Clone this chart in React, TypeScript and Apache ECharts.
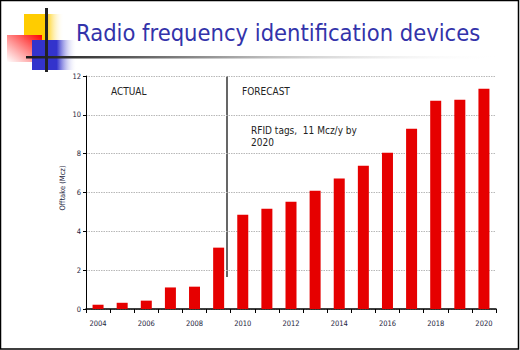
import React, { useEffect, useRef } from 'react';
import * as echarts from 'echarts';

const years = ['2004', '2005', '2006', '2007', '2008', '2009', '2010', '2011', '2012', '2013', '2014', '2015', '2016', '2017', '2018', '2019', '2020'];
const offtake = [0.22, 0.32, 0.43, 1.11, 1.15, 3.16, 4.86, 5.16, 5.52, 6.09, 6.72, 7.38, 8.05, 9.28, 10.72, 10.78, 11.34];
const yMin = 0;
const yMax = 12;
const yStep = 2;
const titleText = 'Radio frequency identification devices';
const yAxisName = 'Offtake (Mcz)';
const noteActual = 'ACTUAL';
const noteForecast = 'FORECAST';
const noteRfid = ['RFID tags,  11 Mcz/y by', '2020'];

const F = "'DejaVu Sans Condensed', 'DejaVu Sans', sans-serif";

export default function App() {
  const ref = useRef<HTMLDivElement>(null);
  useEffect(() => {
    document.body.style.margin = '0';
    const chart = echarts.init(ref.current!, null, { renderer: 'svg' });
    const fade = (c: string, stop: number) =>
      new echarts.graphic.LinearGradient(0, 0, 1, 0, [
        { offset: 0, color: c },
        { offset: stop, color: c },
        { offset: 1, color: 'rgba(255,255,255,0)' },
      ]);
    chart.setOption({
      animation: false,
      grid: { left: 86, right: 24, top: 76, bottom: 41, containLabel: false },
      xAxis: {
        type: 'category',
        data: years,
        boundaryGap: true,
        axisLine: { lineStyle: { color: '#000', width: 1.5 } },
        axisTick: { show: true, interval: 0, length: 4, lineStyle: { color: '#000' } },
        axisLabel: { interval: 1, margin: 10, fontSize: 7.5, fontFamily: F, color: '#1c1c3c' },
        splitLine: { show: false },
      },
      yAxis: {
        type: 'value',
        min: yMin,
        max: yMax,
        interval: yStep,
        axisLine: { show: true, lineStyle: { color: '#000', width: 1 } },
        axisTick: { show: true, length: 3, lineStyle: { color: '#000' } },
        axisLabel: { margin: 5, fontSize: 7.5, fontFamily: F, color: '#1c1c3c' },
        splitLine: { show: true, lineStyle: { color: '#b8b8b8', type: [1.5, 1], width: 1 } },
      },
      series: [
        {
          type: 'bar',
          data: offtake,
          barWidth: 11,
          itemStyle: { color: '#e60000' },
        },
      ],
      graphic: [
        // frame
        { type: 'rect', shape: { x: 0.5, y: 0.5, width: 518, height: 348.5 }, style: { fill: 'none', stroke: '#000', lineWidth: 1.5 }, z: 100 },
        // logo
        { type: 'rect', shape: { x: 24, y: 14, width: 40, height: 26 }, style: { fill: fade('#ffcc00', 0.55) } },
        {
          type: 'rect',
          shape: { x: 7, y: 35, width: 35, height: 27 },
          style: {
            fill: new echarts.graphic.LinearGradient(1, 0, 0, 1, [
              { offset: 0, color: '#ff0000' },
              { offset: 1, color: 'rgba(255,255,255,0.9)' },
            ]),
          },
        },
        { type: 'rect', shape: { x: 32, y: 40, width: 45, height: 30 }, style: { fill: fade('#3333cc', 0.55) } },
        {
          type: 'rect',
          shape: { x: 26, y: 56, width: 476, height: 2.5 },
          style: {
            fill: new echarts.graphic.LinearGradient(0, 0, 1, 0, [
              { offset: 0, color: '#1a1a1a' },
              { offset: 0.1, color: '#333' },
              { offset: 0.5, color: '#bbb' },
              { offset: 1, color: 'rgba(255,255,255,0)' },
            ]),
          },
        },
        { type: 'rect', shape: { x: 45, y: 8, width: 3, height: 64 }, style: { fill: '#222' } },
        // title
        {
          type: 'text',
          x: 76,
          y: 33,
          style: { text: titleText, fill: '#3333aa', fontSize: 23.5, fontFamily: F, align: 'left', verticalAlign: 'middle' },
        },
        // y axis name
        {
          type: 'text',
          x: 62,
          y: 188,
          rotation: Math.PI / 2,
          style: { text: yAxisName, fill: '#1c1c3c', fontSize: 7.5, fontFamily: F, align: 'center', verticalAlign: 'middle' },
        },
        // actual / forecast divider
        { type: 'line', shape: { x1: 227, y1: 76, x2: 227, y2: 277 }, style: { stroke: '#000', lineWidth: 1.2 } },
        { type: 'text', x: 111, y: 91, style: { text: noteActual, fill: '#222', fontSize: 10, fontFamily: F, align: 'left', verticalAlign: 'middle' } },
        { type: 'text', x: 242, y: 91, style: { text: noteForecast, fill: '#222', fontSize: 10, fontFamily: F, align: 'left', verticalAlign: 'middle' } },
        { type: 'text', x: 251, y: 130, style: { text: noteRfid[0], fill: '#222', fontSize: 10, fontFamily: F, align: 'left', verticalAlign: 'middle' } },
        { type: 'text', x: 251, y: 142, style: { text: noteRfid[1], fill: '#222', fontSize: 10, fontFamily: F, align: 'left', verticalAlign: 'middle' } },
      ],
    });
    return () => chart.dispose();
  }, []);
  return <div ref={ref} style={{ width: 520, height: 350 }} />;
}
